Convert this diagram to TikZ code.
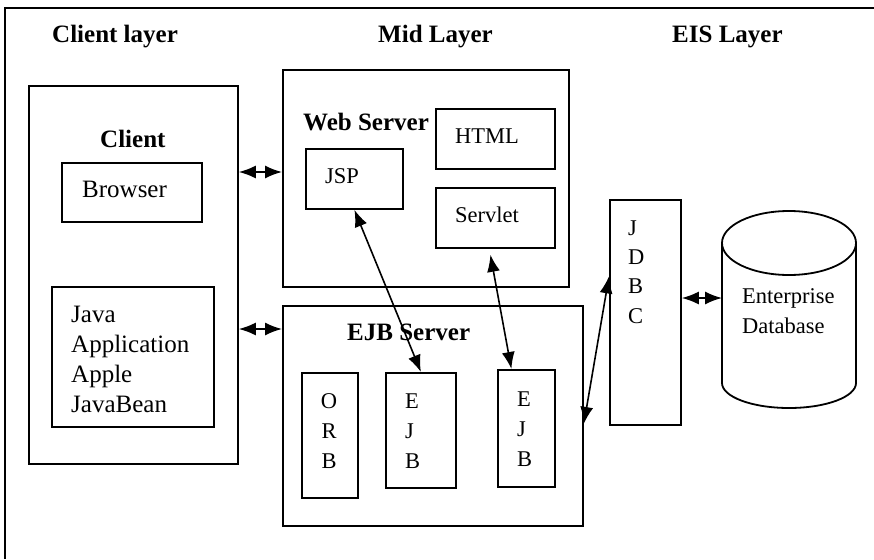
\documentclass[tikz,border=0pt]{standalone}
\usepackage{fontspec}
\setmainfont{Liberation Serif}
\usetikzlibrary{arrows.meta}

\begin{document}
\begin{tikzpicture}[x = 1pt, y = -1pt, > = {Latex[length = 17pt, width = 13pt]},
	every node/.style = {inner sep = 0pt},
	box/.style = {draw, line width = 1.8pt, anchor = north west},
	title/.style = {font = \fontsize{25}{30}\selectfont\bfseries, anchor = base west},
	bigtxt/.style = {font = \fontsize{25}{30}\selectfont, anchor = base west, align = left},
	txt/.style = {font = \fontsize{22.5}{30}\selectfont, anchor = base west, align = left},
	link/.style = {<->, line width = 1.6pt}]

	\useasboundingbox (0,0) rectangle (874,559);

	% Frame (only top and left edges show)
	
	\draw [line width = 1.8pt] (874,8) -- (5,8) -- (5,559);
	
	% Layer titles
	
	\node [title] (clientlayer) at (52,43) {Client layer};
	\node [title] (midlayer) at (378,43) {Mid Layer};
	\node [title] (eislayer) at (672,43) {EIS Layer};
	
	% Client layer
	% (base of a text of several lines = its last line)
	
	\node [box, minimum width = 209, minimum height = 378] (client) at (28,85) {};
	\node [title] (clienttitle) at (100,147) {Client};
	\node [box, minimum width = 140, minimum height = 59] (browser) at (61,162) {};
	\node [bigtxt] (browsertxt) at (82,197) {Browser};
	\node [box, minimum width = 162, minimum height = 140] (javaapp) at (51,286) {};
	\node [bigtxt] (javaapptxt) at (71,412) {Java\\Application\\Apple\\JavaBean};
	
	% Web server
	
	\node [box, minimum width = 286, minimum height = 217] (websrv) at (282,69) {};
	\node [title] (websrvtitle) at (303,130) {Web Server};
	\node [box, minimum width = 97, minimum height = 60] (jsp) at (305,148) {};
	\node [txt] (jsptxt) at (325,183) {JSP};
	\node [box, minimum width = 119, minimum height = 60] (html) at (435,108) {};
	\node [txt] (htmltxt) at (455,143) {HTML};
	\node [box, minimum width = 119, minimum height = 60] (servlet) at (435,187) {};
	\node [txt] (servlettxt) at (455,222) {Servlet};
	
	% EJB server
	
	\node [box, minimum width = 300, minimum height = 220] (ejbsrv) at (282,305) {};
	\node [title] (ejbsrvtitle) at (347,340) {EJB Server};
	\node [box, minimum width = 56, minimum height = 125] (orb) at (301,372) {};
	\node [txt, align = center, anchor = base] (orbtxt) at (329,468) {O\\R\\B};
	\node [box, minimum width = 70, minimum height = 115] (ejba) at (385,372) {};
	\node [txt] (ejbatxt) at (405,468) {E\\J\\B};
	\node [box, minimum width = 57, minimum height = 117] (ejbb) at (497,369) {};
	\node [txt] (ejbbtxt) at (517,466) {E\\J\\B};
	
	% EIS layer: JDBC and the database
	
	\node [box, minimum width = 71, minimum height = 225] (jdbc) at (609,199) {};
	\node [txt, font = \fontsize{22.5}{29.3}\selectfont] (jdbctxt) at (628,323) {J\\D\\B\\C};
	
	\draw [line width = 1.8pt] (789,243) ellipse [x radius = 67, y radius = 32];
	\draw [line width = 1.8pt] (722,243) -- (722,383) arc [start angle = 180, end angle = 0, x radius = 67, y radius = 25] -- (856,243);
	\coordinate (db) at (722,298);
	\node [txt] (dbtxt) at (742,333) {Enterprise\\Database};
	
	% Connections
	
	\draw [link] (client.east |- 0,172) -- (websrv.west |- 0,172);
	\draw [link] (client.east |- 0,329) -- (ejbsrv.west |- 0,329);
	\draw [link] (jsp.south) -- (ejba.north);
	\draw [link] ([shift = {(-5,6)}]servlet.south) -- ([xshift = -15pt]ejbb.north);
	\draw [link] ([yshift = -8pt]ejbsrv.east) -- ([yshift = 36pt]jdbc.west);
	\draw [link] (jdbc.east |- db) -- (db);
	
\end{tikzpicture}
\end{document}
